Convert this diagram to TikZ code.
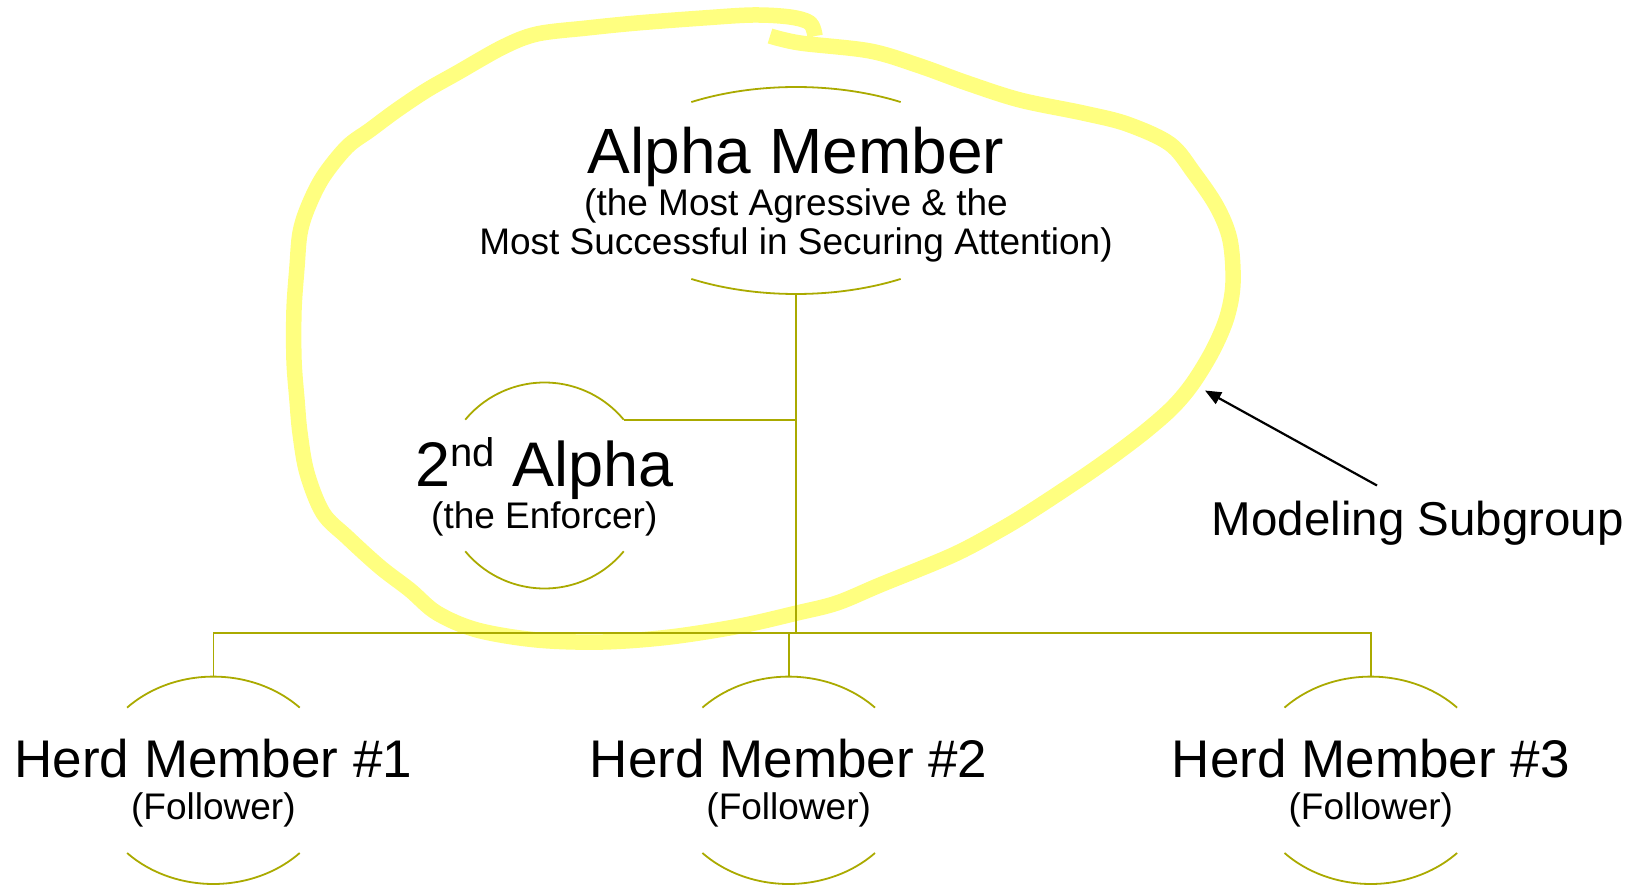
\documentclass[tikz,border=0pt]{standalone}
\usepackage{fontspec}
\setmainfont{Liberation Sans}
\usetikzlibrary{arrows.meta,calc}
\definecolor{orgline}{RGB}{170,170,0}
\definecolor{marker}{RGB}{255,255,128}

% top and bottom arcs of an oval member box:
% #1 centre, #2 x radius, #3 y radius, #4 parametric angle of the arc ends
\newcommand\orgarcs[4]{%
  \draw[lnk] ($(#1)+({#2*cos(#4)},{-#3*sin(#4)})$)
    arc[start angle=#4, end angle=180-#4, x radius=#2pt, y radius=#3pt];
  \draw[lnk] ($(#1)+({#2*cos(#4)},{#3*sin(#4)})$)
    arc[start angle=-#4, end angle=-180+#4, x radius=#2pt, y radius=#3pt];
}

\begin{document}
\begin{tikzpicture}[x=1pt,y=-1pt,
  lnk/.style={draw=orgline,line width=1.8pt},
  hl/.style={draw=marker,line width=15.5pt,line join=round},
  pointer/.style={draw=black,line width=2.2pt,-{Triangle[length=16pt,width=13pt]}},
  txt/.style={inner sep=0pt,anchor=base,text=black},
  bigtxt/.style={txt,font=\fontsize{64}{64}\selectfont},
  herdtxt/.style={txt,font=\fontsize{53}{53}\selectfont},
  subtxt/.style={txt,font=\fontsize{37}{37}\selectfont},
  notetxt/.style={inner sep=0pt,anchor=base west,font=\fontsize{47.5}{47.5}\selectfont}]

\useasboundingbox (0,0) rectangle (1642,885);

% highlighter loop around the alpha pair
\draw[hl] plot[smooth, tension=0.55] coordinates {
  (770,36) (800,43) (870,51) (920,66) (967,83) (1020,100) (1083,113)
  (1127,124) (1170,144) (1194,173) (1217,207) (1230,240) (1233,283)
  (1227,317) (1213,350) (1193,383) (1173,407) (1147,430) (1117,453)
  (1083,477) (1033,510) (1000,530) (953,555) (880,585) (837,603)
  (797,613) (740,626) (670,637) (603,642) (537,640) (477,630)
  (437,613) (410,590) (380,567) (347,537) (323,513) (307,473)
  (300,433) (297,400) (294,360) (294,310) (297,267) (300,233)
  (308,207) (323,177) (347,147) (370,130) (397,110) (427,90)
  (457,73) (503,47) (537,34) (587,28) (637,23) (703,18) (753,15)
  (790,17) (810,23) (815,36)};

% oval centres
\coordinate (alpha-c) at (796,190.5);
\coordinate (beta-c)  at (544.5,485.5);
\coordinate (h1-c)    at (213.4,780.3);
\coordinate (h2-c)    at (788.7,780.3);
\coordinate (h3-c)    at (1370.8,780.3);

% oval outlines
\orgarcs{alpha-c}{201.5}{103.5}{58.7}
\orgarcs{beta-c}{103}{103}{39.7}
\orgarcs{h1-c}{121}{103.7}{44.5}
\orgarcs{h2-c}{121}{103.7}{44.5}
\orgarcs{h3-c}{121}{103.7}{44.5}

% member texts
\node[bigtxt] (alpha) at (796,173.5) {Alpha Member};
\node[subtxt] (alpha-s1) at (796,216) {(the Most Agressive \& the};
\node[subtxt] (alpha-s2) at (796,254.5) {Most Successful in Securing Attention)};

\node[bigtxt,font=\fontsize{63}{63}\selectfont] (beta) at (544.3,486.5)
  {2\raisebox{20pt}{\fontsize{40}{40}\selectfont nd} Alpha};
\node[subtxt] (beta-s) at (544.3,528.5) {(the Enforcer)};

\node[herdtxt] (h1) at (213.4,777.8) {Herd Member \#1};
\node[subtxt]  (h1-s) at (213.4,819) {(Follower)};
\node[herdtxt] (h2) at (788.7,777.8) {Herd Member \#2};
\node[subtxt]  (h2-s) at (788.7,819) {(Follower)};
\node[herdtxt] (h3) at (1370.8,777.8) {Herd Member \#3};
\node[subtxt]  (h3-s) at (1370.8,819) {(Follower)};

% connection points
\coordinate (alpha-bot) at ($(alpha-c)+(0,103.5)$);
\coordinate (beta-end)  at ($(beta-c)+({103*cos(39.7)},{-103*sin(39.7)})$);
\coordinate (h1-top) at ($(h1-c)+(0,-103.7)$);
\coordinate (h2-top) at ($(h2-c)+(0,-103.7)$);
\coordinate (h3-top) at ($(h3-c)+(0,-103.7)$);
\coordinate (bus) at (0,633.3);

% hierarchy lines
\draw[lnk] (alpha-bot) -- (alpha-bot |- bus);
\draw[lnk] (beta-end) -- (beta-end -| alpha-bot);
\draw[lnk] (h1-top) -- (h1-top |- bus) -- (h3-top |- bus) -- (h3-top);
\draw[lnk] (h2-top) -- (h2-top |- bus);

% annotation
\node[notetxt] (note) at (1211.6,535.5) {Modeling Subgroup};
\coordinate (note-tail) at (1377,485.5);
\coordinate (loop-mark) at (1205,390.5);
\draw[pointer] (note-tail) -- (loop-mark);

\end{tikzpicture}
\end{document}
